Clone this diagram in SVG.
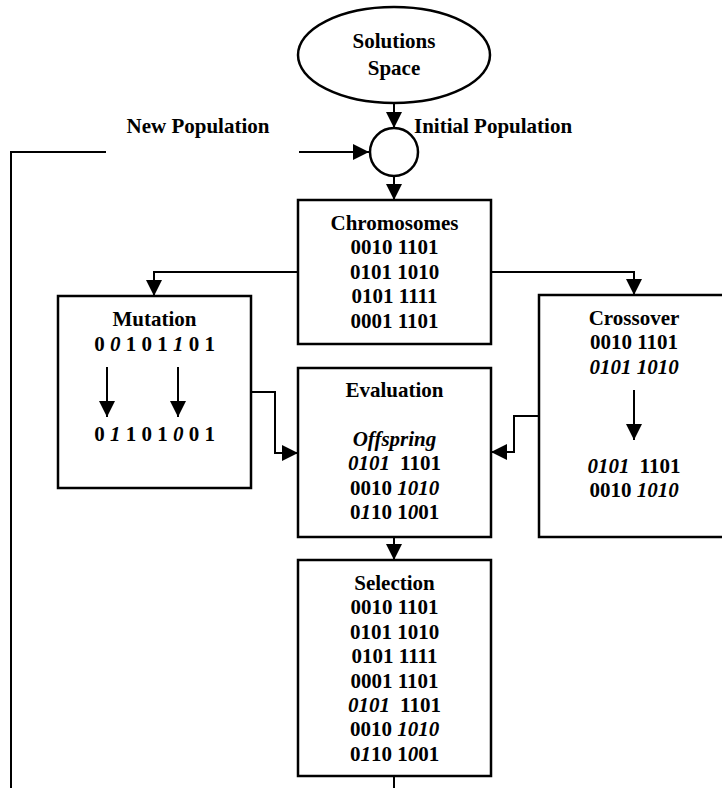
<svg xmlns="http://www.w3.org/2000/svg" width="722" height="788" viewBox="0 0 722 788">
<style>
text{font-family:"Liberation Serif","Times New Roman",serif;font-weight:bold;font-size:21px;fill:#000;text-anchor:middle}
.i{font-style:italic}
.shape{fill:#fff;stroke:#000;stroke-width:2.5}
.ln{fill:none;stroke:#000;stroke-width:2}
</style>
<defs>
<marker id="ah" markerUnits="userSpaceOnUse" markerWidth="16" markerHeight="16" viewBox="0 0 16 16" refX="16" refY="8" orient="auto">
<path d="M0,0 L16,8 L0,16 z" fill="#000"/>
</marker>
</defs>
<rect width="722" height="788" fill="#fff"/>
<g id="connectors">
<path class="ln" d="M394,103 V128" marker-end="url(#ah)"/>
<path class="ln" d="M394,176 V200" marker-end="url(#ah)"/>
<path class="ln" d="M299,152 H369" marker-end="url(#ah)"/>
<path class="ln" d="M106,152 H11 V788"/>
<path class="ln" d="M394,776 V788"/>
<path class="ln" d="M298,272 H154 V296" marker-end="url(#ah)"/>
<path class="ln" d="M491,272 H634 V295" marker-end="url(#ah)"/>
<path class="ln" d="M251,392 H275 V453 H298" marker-end="url(#ah)"/>
<path class="ln" d="M539,416 H514 V452 H491" marker-end="url(#ah)"/>
<path class="ln" d="M394,537 V560" marker-end="url(#ah)"/>
</g>
<g id="solutions">
<ellipse class="shape" cx="394" cy="55" rx="96" ry="48"/>
<text x="394" y="48">Solutions</text>
<text x="394" y="75">Space</text>
</g>
<g id="initial">
<circle class="shape" cx="394" cy="152" r="24"/>
<text x="414" y="133" style="text-anchor:start">Initial Population</text>
</g>
<g id="newpop">
<text x="198" y="133">New Population</text>
</g>
<g id="chromosomes">
<rect class="shape" x="298" y="200" width="193" height="144"/>
<text x="394.5" y="230">Chromosomes</text>
<text x="394.5" y="254.4">0010 1101</text>
<text x="394.5" y="278.8">0101 1010</text>
<text x="394.5" y="303.2">0101 1111</text>
<text x="394.5" y="327.6">0001 1101</text>
</g>
<g id="mutation">
<rect class="shape" x="58" y="296" width="193" height="192"/>
<text x="154.5" y="326">Mutation</text>
<text x="154.5" y="351">0 <tspan class="i">0</tspan> 1 0 1 <tspan class="i">1</tspan> 0 1</text>
<path class="ln" d="M107,367 V417" marker-end="url(#ah)"/>
<path class="ln" d="M178,367 V417" marker-end="url(#ah)"/>
<text x="154.5" y="441">0 <tspan class="i">1</tspan> 1 0 1 <tspan class="i">0</tspan> 0 1</text>
</g>
<g id="crossover">
<rect class="shape" x="539" y="295" width="190" height="242"/>
<text x="634" y="325">Crossover</text>
<text x="634" y="349.4">0010 1101</text>
<text x="634" y="373.8" class="i">0101 1010</text>
<path class="ln" d="M634,390 V440" marker-end="url(#ah)"/>
<text x="634" y="473"><tspan class="i">0101</tspan><tspan dx="10">1101</tspan></text>
<text x="634" y="497.4">0010 <tspan class="i">1010</tspan></text>
</g>
<g id="evaluation">
<rect class="shape" x="298" y="368" width="193" height="169"/>
<text x="394.5" y="397">Evaluation</text>
<text x="394.5" y="445.8" class="i">Offspring</text>
<text x="394.5" y="470.2"><tspan class="i">0101</tspan><tspan dx="10">1101</tspan></text>
<text x="394.5" y="494.6">0010 <tspan class="i">1010</tspan></text>
<text x="394.5" y="519">0<tspan class="i">1</tspan>10 1<tspan class="i">0</tspan>01</text>
</g>
<g id="selection">
<rect class="shape" x="298" y="560" width="193" height="216"/>
<text x="394.5" y="590">Selection</text>
<text x="394.5" y="614.4">0010 1101</text>
<text x="394.5" y="638.8">0101 1010</text>
<text x="394.5" y="663.2">0101 1111</text>
<text x="394.5" y="687.6">0001 1101</text>
<text x="394.5" y="712"><tspan class="i">0101</tspan><tspan dx="10">1101</tspan></text>
<text x="394.5" y="736.4">0010 <tspan class="i">1010</tspan></text>
<text x="394.5" y="760.8">0<tspan class="i">1</tspan>10 1<tspan class="i">0</tspan>01</text>
</g>
</svg>
